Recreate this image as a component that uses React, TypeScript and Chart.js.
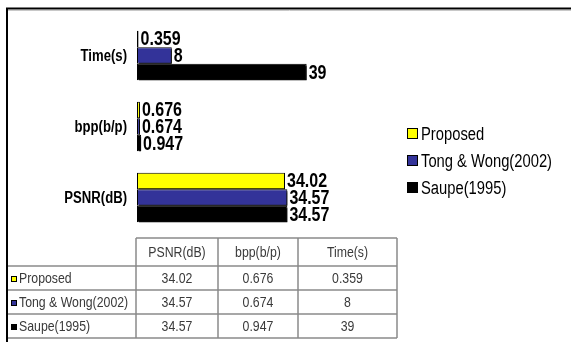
import React, { useEffect, useRef } from "react";
import { Chart, registerables } from "chart.js";

Chart.register(...registerables);

const SANS = '"Liberation Sans", Arial, sans-serif';
// Horizontal squeeze that turns the sans face into a narrow one
const NARROW_X = 0.82;

// Chart categories, top to bottom
const categories = ["Time(s)", "bpp(b/p)", "PSNR(dB)"];

// Series values, in the same order as the categories
const proposed = [0.359, 0.676, 34.02];
const tongWong = [8, 0.674, 34.57];
const saupe = [39, 0.947, 34.57];

const seriesNames = ["Proposed", "Tong & Wong(2002)", "Saupe(1995)"];
const seriesColors = ["#ffff00", "#333399", "#000000"];
const seriesValues = [proposed, tongWong, saupe];

// Column order of the summary table underneath
const tableColumns = ["PSNR(dB)", "bpp(b/p)", "Time(s)"];

const fmt = (v: number) => String(v);

function narrowText(
  ctx: CanvasRenderingContext2D,
  text: string,
  x: number,
  y: number,
  font: string,
  align: CanvasTextAlign,
  color: string,
  sx: number = NARROW_X
) {
  ctx.save();
  ctx.font = font;
  ctx.fillStyle = color;
  ctx.textAlign = align;
  ctx.textBaseline = "middle";
  ctx.translate(x, y);
  ctx.scale(sx, 1);
  ctx.fillText(text, 0, 0);
  ctx.restore();
}

// Drop shadow under the bars
const shadowPlugin = {
  id: "barShadow",
  beforeDatasetsDraw(chart: any) {
    const ctx = chart.ctx;
    ctx.save();
    ctx.shadowColor = "rgba(0,0,0,0.85)";
    ctx.shadowOffsetX = 2;
    ctx.shadowOffsetY = 2;
    ctx.shadowBlur = 0;
  },
  afterDatasetsDraw(chart: any) {
    chart.ctx.restore();
  },
};

// Category names and value labels at the end of each bar
const labelPlugin = {
  id: "barLabels",
  afterDatasetsDraw(chart: any) {
    const ctx = chart.ctx;
    const yScale = chart.scales.y;
    categories.forEach((cat, i) => {
      narrowText(ctx, cat, chart.chartArea.left - 10, yScale.getPixelForValue(i) + 1, `bold 16px ${SANS}`, "right", "#000");
    });
    chart.data.datasets.forEach((ds: any, di: number) => {
      const meta = chart.getDatasetMeta(di);
      meta.data.forEach((bar: any, i: number) => {
        narrowText(ctx, fmt(ds.data[i]), bar.x + 2, bar.y + 1, `bold 20px ${SANS}`, "left", "#000", 0.8);
      });
    });
  },
};

// Legend, data table and page frame
const extrasPlugin = {
  id: "extras",
  afterDraw(chart: any) {
    const ctx = chart.ctx;
    ctx.save();

    // legend
    const legendX = 407;
    const legendY = [134, 161, 188];
    seriesNames.forEach((name, i) => {
      const y = legendY[i];
      ctx.fillStyle = seriesColors[i];
      ctx.fillRect(legendX, y - 6, 11, 11);
      ctx.strokeStyle = "#000";
      ctx.lineWidth = 1;
      ctx.strokeRect(legendX + 0.5, y - 5.5, 10, 10);
      narrowText(ctx, name, legendX + 14, y + 1, `18px ${SANS}`, "left", "#000");
    });

    // data table
    const colX = [7, 136, 218, 298, 397];
    const rowY = [238, 266, 290, 314, 338];
    ctx.strokeStyle = "#8a8a8a";
    ctx.lineWidth = 1.5;
    ctx.beginPath();
    ctx.moveTo(colX[1], rowY[0]);
    ctx.lineTo(colX[4], rowY[0]);
    for (let r = 1; r < rowY.length; r++) {
      ctx.moveTo(colX[0], rowY[r]);
      ctx.lineTo(colX[4], rowY[r]);
    }
    ctx.moveTo(colX[0], rowY[1]);
    ctx.lineTo(colX[0], rowY[4]);
    for (let c = 1; c < colX.length; c++) {
      ctx.moveTo(colX[c], rowY[0]);
      ctx.lineTo(colX[c], rowY[4]);
    }
    ctx.stroke();

    const cellFont = `15px ${SANS}`;
    const cellColor = "#3a3a3a";
    tableColumns.forEach((col, c) => {
      const cx = (colX[c + 1] + colX[c + 2]) / 2;
      narrowText(ctx, col, cx, (rowY[0] + rowY[1]) / 2 + 1, cellFont, "center", cellColor);
    });
    seriesNames.forEach((name, r) => {
      const cy = (rowY[r + 1] + rowY[r + 2]) / 2 + 1;
      ctx.fillStyle = seriesColors[r];
      ctx.fillRect(11, cy - 3, 6, 6);
      ctx.strokeStyle = "#000";
      ctx.lineWidth = 1;
      ctx.strokeRect(11.5, cy - 2.5, 5, 5);
      narrowText(ctx, name, 19, cy, cellFont, "left", cellColor);
      tableColumns.forEach((col, c) => {
        const ci = categories.indexOf(col);
        const cx = (colX[c + 1] + colX[c + 2]) / 2;
        narrowText(ctx, fmt(seriesValues[r][ci]), cx, cy, cellFont, "center", cellColor);
      });
    });

    // frame
    ctx.strokeStyle = "#c8c8c8";
    ctx.lineWidth = 1;
    ctx.beginPath();
    ctx.moveTo(8, 10.5);
    ctx.lineTo(571, 10.5);
    ctx.stroke();
    ctx.strokeStyle = "#000";
    ctx.lineWidth = 2;
    ctx.beginPath();
    ctx.moveTo(6, 8.5);
    ctx.lineTo(571, 8.5);
    ctx.moveTo(7, 8);
    ctx.lineTo(7, 342);
    ctx.stroke();

    ctx.restore();
  },
};

export default function App() {
  const canvasRef = useRef<HTMLCanvasElement | null>(null);

  useEffect(() => {
    const canvas = canvasRef.current;
    if (!canvas) return;
    const chart = new Chart(canvas, {
      type: "bar",
      data: {
        labels: categories,
        datasets: seriesNames.map((name, i) => ({
          label: name,
          data: seriesValues[i],
          backgroundColor: seriesColors[i],
          borderColor: "#000",
          borderWidth: 1,
          borderSkipped: false,
          categoryPercentage: 0.7,
          barPercentage: 1.0,
        })),
      },
      options: {
        indexAxis: "y",
        animation: false,
        responsive: false,
        devicePixelRatio: 1,
        layout: {
          padding: { left: 137, top: 20, right: 571 - 398, bottom: 342 - 233 },
        },
        plugins: {
          legend: { display: false },
          tooltip: { enabled: false },
        },
        scales: {
          x: { display: false, min: 0, max: 60 },
          y: { display: false },
        },
      },
      plugins: [shadowPlugin, labelPlugin, extrasPlugin],
    });
    return () => chart.destroy();
  }, []);

  return (
    <div style={{ position: "fixed", left: 0, top: 0, width: 571, height: 342, background: "#fff" }}>
      <canvas ref={canvasRef} width={571} height={342} style={{ display: "block" }} />
    </div>
  );
}
